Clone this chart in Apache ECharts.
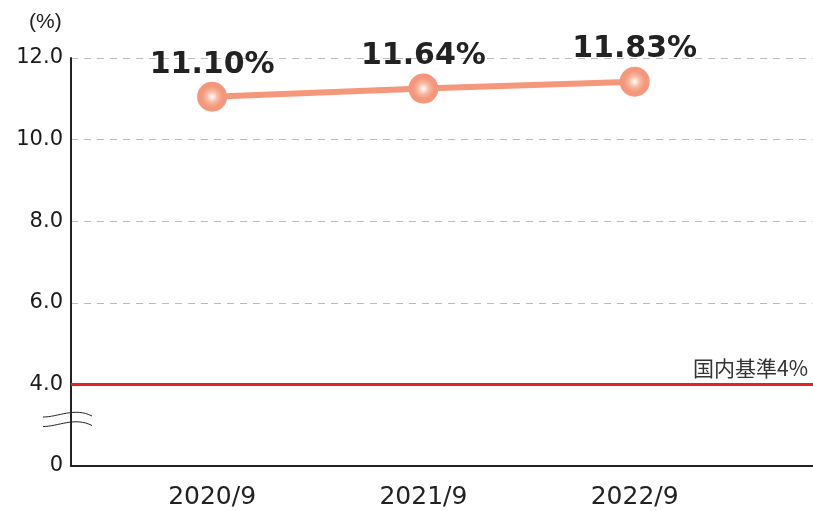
<!DOCTYPE html>
<html>
<head>
<meta charset="utf-8">
<script src="https://cdn.jsdelivr.net/npm/echarts@6/dist/echarts.min.js"></script>
<style>
  html, body { margin: 0; padding: 0; background: #fff; }
  #chart { width: 813px; height: 511px; }
</style>
</head>
<body>
<div id="chart"></div>
<script>
// periods and ratio values (%)
const periods = ['2020/9', '2021/9', '2022/9'];
const ratioValues = [11.05, 11.25, 11.42];
const ratioLabels = ['11.10%', '11.64%', '11.83%'];
const baseline = 4;
const baselineLabel = '国内基準4%';
const yTicks = [0, 4, 6, 8, 10, 12];

// axis is broken below 4.0: shift values above the break down by 2
const BREAK_SHIFT = 2;
const toAxis = (v) => (v === 0 ? 0 : v - BREAK_SHIFT);

const chart = echarts.init(document.getElementById('chart'));

const option = {
  animation: false,
  title: {
    text: '(%)',
    left: 24,
    top: 7,
    textStyle: { fontFamily: 'Liberation Sans', fontSize: 21, fontWeight: 'normal', color: '#222' }
  },
  grid: { left: 71, right: 0, top: 58, bottom: 45 },
  xAxis: {
    type: 'value',
    min: 0.332,
    max: 3.844,
    splitLine: { show: false },
    axisTick: { show: false },
    axisLine: { show: true, lineStyle: { color: '#222', width: 2 } },
    axisLabel: {
      customValues: periods.map((p, i) => i + 1),
      formatter: (v) => periods[Math.round(v) - 1] || '',
      margin: 19,
      fontFamily: 'DejaVu Sans',
      fontSize: 25,
      color: '#222'
    }
  },
  yAxis: {
    type: 'value',
    min: 0,
    max: toAxis(yTicks[yTicks.length - 1]),
    interval: 2,
    axisLine: { show: true, lineStyle: { color: '#222', width: 2 } },
    axisTick: { show: false },
    splitLine: { show: true, lineStyle: { color: '#bbb', type: [7, 6], width: 1 } },
    axisLabel: {
      margin: 8,
      fontFamily: 'DejaVu Sans',
      fontSize: 21,
      color: '#1a1a1a',
      formatter: (v) => (v === 0 ? '0' : (v + BREAK_SHIFT).toFixed(1))
    }
  },
  series: [
    {
      type: 'line',
      data: ratioValues.map((v, i) => [i + 1, toAxis(v)]),
      symbol: 'circle',
      symbolSize: 30,
      z: 5,
      lineStyle: { color: '#f4977a', width: 6 },
      itemStyle: {
        color: new echarts.graphic.RadialGradient(0.5, 0.5, 0.5, [
          { offset: 0, color: '#ffffff' },
          { offset: 0.35, color: '#f8bba5' },
          { offset: 0.7, color: '#f4977a' },
          { offset: 1, color: '#f4977a' }
        ])
      },
      label: {
        show: true,
        position: 'top',
        distance: 2,
        formatter: (p) => ratioLabels[p.dataIndex],
        fontFamily: 'DejaVu Sans',
        fontWeight: 'bold',
        fontSize: 30,
        color: '#222'
      },
      markLine: {
        silent: true,
        symbol: 'none',
        lineStyle: { color: '#e8202a', width: 3, type: 'solid' },
        label: {
          show: true,
          position: 'insideEndTop',
          distance: [5, 6],
          formatter: baselineLabel,
          fontFamily: 'Noto Sans CJK JP',
          fontSize: 21,
          color: '#333'
        },
        data: [{ yAxis: toAxis(baseline) }]
      }
    }
  ]
};

chart.setOption(option);

// break mark on the y axis
const ax = chart.convertToPixel({ xAxisIndex: 0 }, 0.332);
const by = chart.convertToPixel({ yAxisIndex: 0 }, 1.2);
const wave = (dy) => ({
  type: 'bezierCurve',
  shape: { x1: -28, y1: dy, cpx1: -13, cpy1: dy, cpx2: 4, cpy2: dy - 10, x2: 21, y2: dy - 1 },
  style: { stroke: '#222', lineWidth: 1, fill: null }
});
chart.setOption({
  graphic: [
    {
      type: 'group',
      x: ax,
      y: by,
      z: 100,
      children: [
        { type: 'rect', shape: { x: -3, y: -5, width: 6, height: 10 }, style: { fill: '#fff' } },
        wave(0),
        wave(9.5)
      ]
    }
  ]
});
</script>
</body>
</html>
